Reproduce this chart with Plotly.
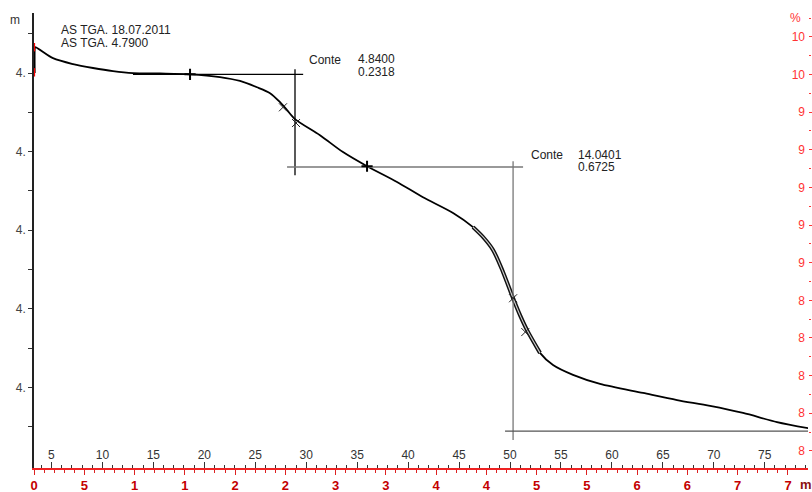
import plotly.graph_objects as go

# ---- data ----
# main TGA curve: x in black-axis units, y in mg
curve_x = [3.36, 3.36, 3.39, 5.15, 7.12, 9.08, 11.04, 13.0, 15.65, 18.6, 21.54, 23.5,
           25.17, 26.45, 27.43, 28.12, 28.9, 31.35, 33.61, 35.97, 38.91, 41.46,
           44.41, 46.37, 47.35, 48.33, 49.31, 50.3, 50.98, 51.67, 52.94, 54.22,
           56.18, 58.83, 63.05, 66.39, 69.63, 72.87, 76.2, 79.3]
curve_y = [4.800, 4.861, 4.866, 4.838, 4.823, 4.813, 4.805, 4.800, 4.799, 4.797, 4.790, 4.780,
           4.764, 4.749, 4.726, 4.706, 4.683, 4.642, 4.599, 4.563, 4.523, 4.484,
           4.444, 4.408, 4.383, 4.350, 4.294, 4.227, 4.184, 4.146, 4.088, 4.057,
           4.032, 4.009, 3.986, 3.968, 3.953, 3.935, 3.912, 3.896]

# doubled section of the second step
dbl_x = [46.37, 47.35, 48.33, 49.31, 50.3, 50.98, 51.67, 52.94]
dbl_y = [4.408, 4.383, 4.350, 4.294, 4.227, 4.184, 4.146, 4.088]

# step evaluation lines (x, y)
step1_h_top_x = [13.0, 29.7]
step1_h_top_y = [4.797, 4.797]
step1_v_x = [28.9, 28.9]
step1_v_y = [4.810, 4.540]
step1_h_bot_x = [28.12, 51.28]
step1_h_bot_y = [4.561, 4.561]
step2_v_x = [50.3, 50.3]
step2_v_y = [4.576, 3.866]
step2_h_bot_x = [49.51, 79.6]
step2_h_bot_y = [3.889, 3.889]

plus_x = [18.6, 35.97]
plus_y = [4.797, 4.563]
cross_x = [27.72, 29.0, 50.3, 51.5]
cross_y = [4.713, 4.673, 4.227, 4.141]
start_x = [3.30, 3.30]
start_y = [4.866, 4.802]

# axes
black_ticks = list(range(5, 80, 5))
left_vals = [3.8, 4.0, 4.2, 4.4, 4.6, 4.8]
left_text = ["3.", "4.", "4.", "4.", "4.", "4."]
right_vals = [80, 82, 84, 86, 88, 90, 92, 94, 96, 98, 100, 102]
right_text = ["8", "8", "8", "8", "8", "9", "9", "9", "9", "9", "10", "10"]
red_vals = list(range(0, 800, 50))
red_text = ["0", "5", "1", "1", "2", "2", "3", "3", "4", "4", "5", "5", "6", "6", "7", "7"]

FONT = "Liberation Sans, Arial, sans-serif"
W, H = 812, 492
L, R, T, B = 34, 4, 13, 24
PW, PH = W - L - R, H - T - B


def px(x):
    return (x - L) / PW


def py(y):
    return (H - B - y) / PH


fig = go.Figure()

fig.add_trace(go.Scatter(x=curve_x, y=curve_y, mode="lines",
                         line=dict(color="black", width=1.8, shape="spline", smoothing=0.8),
                         hoverinfo="skip"))
fig.add_trace(go.Scatter(x=dbl_x, y=dbl_y, mode="lines",
                         line=dict(color="#111", width=4.0, shape="spline", smoothing=0.8),
                         hoverinfo="skip"))
fig.add_trace(go.Scatter(x=dbl_x, y=dbl_y, mode="lines",
                         line=dict(color="#d0d0d0", width=1.1, shape="spline", smoothing=0.8),
                         hoverinfo="skip"))

for xs, ys, col in [(step1_h_top_x, step1_h_top_y, "black"),
                    (step1_v_x, step1_v_y, "black"),
                    (step1_h_bot_x, step1_h_bot_y, "#777777"),
                    (step2_v_x, step2_v_y, "#777777"),
                    (step2_h_bot_x, step2_h_bot_y, "#555555")]:
    fig.add_trace(go.Scatter(x=xs, y=ys, mode="lines", cliponaxis=False,
                             line=dict(color=col, width=1.3), hoverinfo="skip"))

fig.add_trace(go.Scatter(x=plus_x, y=plus_y, mode="markers",
                         marker=dict(symbol="cross-thin-open", size=8, color="black",
                                     line=dict(color="black", width=2)), hoverinfo="skip"))
fig.add_trace(go.Scatter(x=cross_x, y=cross_y, mode="markers",
                         marker=dict(symbol="x-thin-open", size=8, color="#222",
                                     line=dict(color="#222", width=1)), hoverinfo="skip"))
fig.add_trace(go.Scatter(x=start_x, y=start_y, mode="markers", cliponaxis=False,
                         marker=dict(symbol="line-ns-open", size=6, color="red",
                                     line=dict(color="red", width=2)), hoverinfo="skip"))

# invisible trace for the red secondary axes
fig.add_trace(go.Scatter(x=[0, 750], y=[80, 102], xaxis="x2", yaxis="y2", mode="markers",
                         marker=dict(opacity=0), hoverinfo="skip"))

fig.update_layout(
    width=W, height=H,
    margin=dict(l=L, r=R, t=T, b=B, autoexpand=False),
    paper_bgcolor="white", plot_bgcolor="white",
    showlegend=False,
    font=dict(family=FONT, size=12, color="#333"),
    xaxis=dict(range=[3.288, 79.24], tickvals=black_ticks, ticks="inside", ticklen=6,
               tickcolor="#333", ticklabelposition="inside", showline=False, automargin=False,
               showgrid=False, zeroline=False, tickfont=dict(size=12, color="#333"),
               minor=dict(dtick=1, tick0=0, ticks="inside", ticklen=3, tickcolor="#333")),
    xaxis2=dict(range=[0, 769.9], overlaying="x", anchor="y", side="bottom", automargin=False,
                tickvals=red_vals, ticktext=red_text, ticks="outside", ticklen=5,
                tickcolor="#dd2222", showline=True, linecolor="#ee2222", linewidth=1.5,
                showgrid=False, zeroline=False,
                tickfont=dict(size=13, color="#c40000", family="Liberation Sans, Arial",
                              weight="bold"),
                minor=dict(dtick=10, tick0=0, ticks="outside", ticklen=3, tickcolor="#dd2222")),
    yaxis=dict(range=[3.795, 4.953], tickvals=left_vals, ticktext=left_text, automargin=False,
               ticks="outside", ticklen=4, tickcolor="#333", showline=True,
               linecolor="#222", linewidth=1.5, showgrid=False, zeroline=False,
               tickfont=dict(size=12, color="#444"),
               minor=dict(dtick=0.1, tick0=3.8, ticks="outside", ticklen=4, tickcolor="#333")),
    yaxis2=dict(range=[79.09, 103.27], overlaying="y", side="right", anchor="x", automargin=False,
                tickvals=right_vals, ticktext=right_text, ticks="outside", ticklen=4,
                tickcolor="#ff3333", ticklabelposition="inside", showline=False,
                showgrid=False, zeroline=False,
                tickfont=dict(size=12, color="#ff3333"),
                minor=dict(dtick=1, tick0=80, ticks="outside", ticklen=2, tickcolor="#ff3333")),
)

texts = [
    ("AS TGA. 18.07.2011", 59, 30.5, "left", "#222"),
    ("AS TGA. 4.7900", 59, 43, "left", "#222"),
    ("Conte", 307, 60, "left", "#222"),
    ("4.8400", 356, 59.5, "left", "#222"),
    ("0.2318", 356, 71.5, "left", "#222"),
    ("Conte", 529, 155, "left", "#222"),
    ("14.0401", 576, 154.5, "left", "#222"),
    ("0.6725", 576, 167, "left", "#222"),
    ("m", 15, 20, "center", "#333"),
    ("%", 795, 18, "center", "#ff3333"),
]
for txt, x, y, anc, col in texts:
    fig.add_annotation(text=txt, x=px(x), y=py(y), xref="paper", yref="paper",
                       xanchor=anc, yanchor="middle", showarrow=False,
                       font=dict(family=FONT, size=12, color=col))
fig.add_annotation(text="m", x=px(806), y=py(484), xref="paper", yref="paper",
                   xanchor="center", yanchor="middle", showarrow=False,
                   font=dict(family=FONT, size=13, color="#8b1010", weight="bold"))

fig.write_html("out.html", config={"displayModeBar": False},
               post_script="document.body.style.margin='0';document.body.style.padding='0';")
